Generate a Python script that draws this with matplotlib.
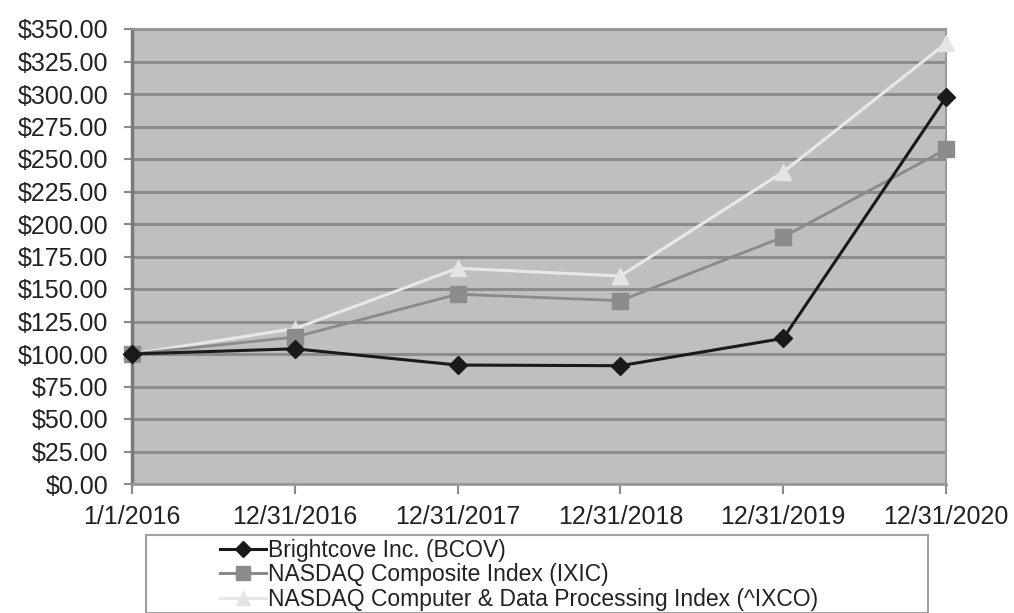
import matplotlib
matplotlib.use("Agg")
import matplotlib.pyplot as plt
from matplotlib.patches import Rectangle
from matplotlib.lines import Line2D

dates = ["1/1/2016", "12/31/2016", "12/31/2017", "12/31/2018", "12/31/2019", "12/31/2020"]
bcov = [100.0, 104.0, 91.5, 91.0, 112.0, 297.5]
ixic = [100.0, 113.0, 146.0, 141.0, 190.0, 257.5]
ixco = [100.0, 119.5, 166.0, 160.0, 240.0, 339.0]
series_labels = ["Brightcove Inc. (BCOV)", "NASDAQ Composite Index (IXIC)",
                 "NASDAQ Computer & Data Processing Index (^IXCO)"]
yticks = [0, 25, 50, 75, 100, 125, 150, 175, 200, 225, 250, 275, 300, 325, 350]

plt.rcParams['font.family'] = ['Liberation Sans', 'DejaVu Sans']

W, H = 1014, 613
fig = plt.figure(figsize=(W / 100, H / 100), dpi=100)
ax = fig.add_axes([132 / W, 1 - 484 / H, (946 - 132) / W, (484 - 29) / H])
ax.set_facecolor("#bfbfc1")

x = list(range(len(dates)))
ax.plot(x, ixco, color="#e8e8e8", lw=2.2, marker="^", ms=11, mfc="#e4e4e4", mec="#e4e4e4",
        zorder=3, clip_on=False)
ax.plot(x, ixic, color="#8a8a8a", lw=2.0, marker="s", ms=11, mfc="#8c8c8c", mec="#8c8c8c",
        zorder=4, clip_on=False)
ax.plot(x, bcov, color="#1a1a1a", lw=2.2, marker="D", ms=9, mfc="#1a1a1a", mec="#1a1a1a",
        zorder=5, clip_on=False)

ax.set_xlim(0, 5)
ax.set_ylim(0, 350)
ax.set_yticks(yticks)
ax.set_yticklabels([f"${v:.2f}" for v in yticks])
ax.set_xticks(x)
ax.set_xticklabels(dates)
ax.yaxis.grid(True, color="#8c8c8c", lw=2.2)
ax.set_axisbelow(True)
for s in ["top", "right"]:
    ax.spines[s].set_visible(True)
    ax.spines[s].set_color("#9a9a9a")
    ax.spines[s].set_linewidth(1.5)
ax.spines["left"].set_color("#7a7a7a")
ax.spines["left"].set_linewidth(2.5)
ax.spines["bottom"].set_color("#9a9a9a")
ax.spines["bottom"].set_linewidth(2)
ax.tick_params(axis="y", length=6, width=1.5, color="#8a8a8a", pad=11, labelsize=18, labelcolor="#222222")
ax.tick_params(axis="x", length=7, width=1.5, color="#8a8a8a", pad=8, labelsize=18, labelcolor="#222222")

# legend box
fig.patches.append(Rectangle((146 / W, 0), (928 - 146) / W, 1 - 535 / H,
                             transform=fig.transFigure, fill=False,
                             edgecolor="#a0a0a0", lw=1.5))
handles = [
    Line2D([], [], color="#1a1a1a", lw=2.2, marker="D", ms=8, mfc="#1a1a1a", mec="#1a1a1a"),
    Line2D([], [], color="#8a8a8a", lw=2.2, marker="s", ms=10, mfc="#8c8c8c", mec="#8c8c8c"),
    Line2D([], [], color="#e8e8e8", lw=2.2, marker="^", ms=10, mfc="#e4e4e4", mec="#e4e4e4"),
]
fig.legend(handles, series_labels, loc="upper left",
           bbox_to_anchor=(220 / W, 1 - 539 / H), frameon=False,
           fontsize=16.5, handlelength=2.0, handletextpad=0.1,
           labelspacing=0.06, borderaxespad=0, borderpad=0, labelcolor="#222222")

fig.savefig("out.png", dpi=100)
